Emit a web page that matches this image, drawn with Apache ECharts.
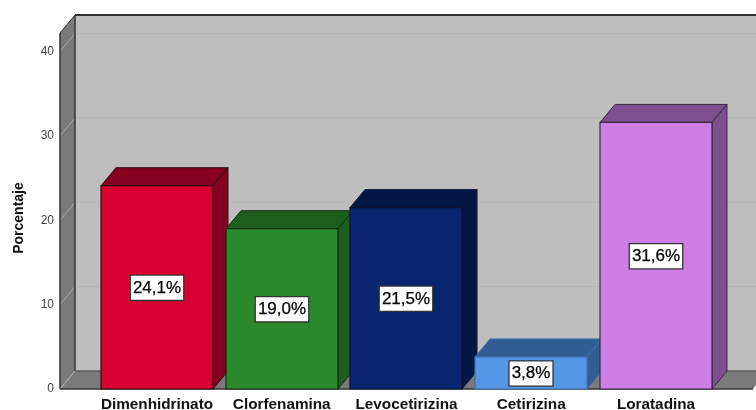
<!DOCTYPE html>
<html><head><meta charset="utf-8">
<style>html,body{margin:0;padding:0;background:#fff}#c{width:756px;height:410px}</style>
<script src="https://cdn.jsdelivr.net/npm/echarts@6/dist/echarts.min.js"></script>
</head><body><div id="c"></div>
<script>
const categories = ['Dimenhidrinato','Clorfenamina','Levocetirizina','Cetirizina','Loratadina'];
const values = [24.1,19.0,21.5,3.8,31.6];
const labels = ['24,1%','19,0%','21,5%','3,8%','31,6%'];
const frontColors = ['#d70030','#2a8a2b','#0a2570','#5596e6','#cc7ee5'];
const shadeColors = ['#84001e','#1d5e1d','#041646','#305d93','#7d4f8f'];
const edgeColors = ['#2a1015','#132a13','#0a1230','#3f6fa8','#3a2a40'];
const yTicks = [0,10,20,30,40];
const DX = 15, DY = -18;
const WALL_L = 60, WALL_R = 756;
const chart = echarts.init(document.getElementById('c'), null, {renderer:'canvas'});
function poly(points, fill, stroke, w){
  return {type:'polygon', shape:{points}, style:{fill, stroke:stroke||null, lineWidth:w||0}};
}
function line(x1,y1,x2,y2,stroke,w){
  return {type:'line', shape:{x1,y1,x2,y2}, style:{stroke, lineWidth:w||1}};
}
function renderWall(params, api){
  const top = params.coordSys.y, bot = top + params.coordSys.height;
  const L = WALL_L, R = WALL_R, dark = '#333333';
  const ch = [
    poly([[L+DX,top+DY],[R,top+DY],[R,bot+DY],[L+DX,bot+DY]],'#bebebe'),
    poly([[L,top],[L+DX,top+DY],[L+DX,bot+DY],[L,bot]],'#7a7a7a'),
    poly([[L,bot],[L+DX,bot+DY],[R,bot+DY],[R,bot-4],[R-3,bot]],'#7a7a7a')
  ];
  yTicks.forEach(t=>{
    const y = api.coord([0,t])[1];
    if(t>0) ch.push(line(L+DX,y+DY,R,y+DY,'#b6b6b6',1));
    ch.push(line(L,y,L+DX,y+DY,'#a8a8a8',1));
  });
  ch.push(line(L+DX,top+DY,R,top+DY,dark,2));
  ch.push(line(L,top,L+DX,top+DY,dark,1));
  ch.push(line(L+DX,top+DY,L+DX,bot+DY,dark,1.5));
  ch.push(line(L,top,L,bot,dark,1.5));
  ch.push(line(L+DX,bot+DY,R,bot+DY,'#5a5a5a',1.5));
  ch.push(line(L,bot,L+DX,bot+DY,'#a8a8a8',1));
  ch.push(line(L,bot,R-3,bot,dark,1.5));
  return {type:'group', children:ch};
}
function renderBar(params, api){
  const i = api.value(0), v = api.value(1);
  const c = api.coord([i,v]), b = api.coord([i,0]);
  const w = api.size([1,0])[0]*0.9;
  const x0 = Math.round(c[0]-w/2), x1 = x0+Math.round(w), yt = c[1], yb = b[1];
  const e = edgeColors[i];
  return {type:'group', children:[
    poly([[x0,yt],[x1,yt],[x1+DX,yt+DY],[x0+DX,yt+DY]],shadeColors[i],e,1),
    poly([[x1,yt],[x1+DX,yt+DY],[x1+DX,yb+DY],[x1,yb]],shadeColors[i],e,1),
    poly([[x0,yt],[x1,yt],[x1,yb],[x0,yb]],frontColors[i],e,1.2),
    {type:'text', z2:10, style:{x:(x0+x1)/2, y:(yt+yb)/2+0.5, text:labels[i], align:'center', verticalAlign:'middle',
      font:'17px "Liberation Sans", Arial, sans-serif', fill:'#000', stroke:'#000', lineWidth:0.25, backgroundColor:'#fff', borderColor:'#333', borderWidth:1.3, padding:[4,2,3,2]}}
  ]};
}
chart.setOption({
  animation:false,
  grid:{left:94.6, width:623.75, top:33, height:356, outerBoundsMode:'none', containLabel:false},
  xAxis:{type:'category', data:categories, axisLine:{show:false}, axisTick:{show:false},
    axisLabel:{interval:0, margin:8, color:'#111', fontWeight:'bold', fontSize:15.3, fontFamily:'"Liberation Sans", Arial, sans-serif'}},
  yAxis:{type:'value', min:0, max:42.2, interval:10, offset:34.6, name:'Porcentaje', nameLocation:'middle', nameGap:34,
    nameTextStyle:{color:'#111', fontWeight:'bold', fontSize:14, padding:[0,14,0,0], fontFamily:'"Liberation Sans", Arial, sans-serif'},
    axisLine:{show:false}, axisTick:{show:false}, splitLine:{show:false},
    axisLabel:{margin:6, color:'#444', fontSize:12, showMaxLabel:false, fontFamily:'"Liberation Sans", Arial, sans-serif'}},
  series:[
    {type:'custom', z:1, clip:false, silent:true, renderItem:renderWall, data:[[0,0]], encode:{x:0,y:1}},
    {type:'custom', z:2, clip:false, silent:true, renderItem:renderBar, data:values.map((v,i)=>[i,v]), encode:{x:0,y:1}}
  ]
});
</script></body></html>
